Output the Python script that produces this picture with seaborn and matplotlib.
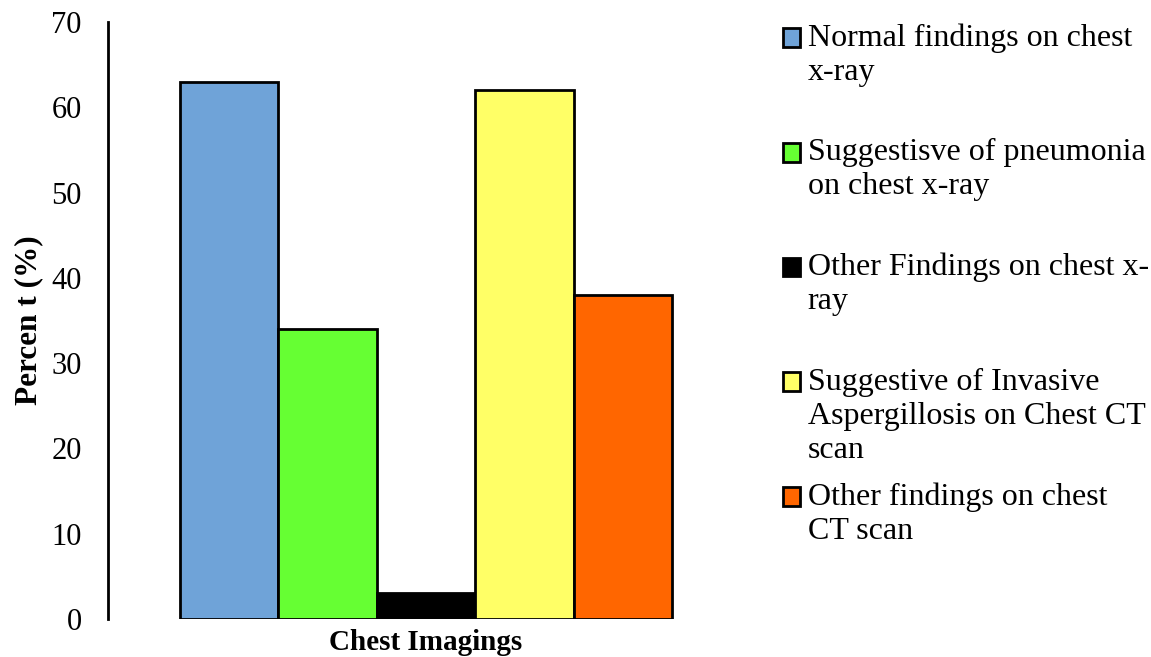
import matplotlib
matplotlib.use("Agg")
import matplotlib.pyplot as plt
from matplotlib.patches import Rectangle
from matplotlib.legend_handler import HandlerPatch
import seaborn as sns
import pandas as pd

group = ["Chest Imagings"] * 5
findings = [
    "Normal findings on chest\nx-ray",
    "Suggestisve of pneumonia\non chest x-ray",
    "Other Findings on chest x-\nray",
    "Suggestive of Invasive\nAspergillosis on Chest CT\nscan",
    "Other findings on chest\nCT scan",
]
percent = [63, 34, 3, 62, 38]
colors = ["#6FA3D8", "#66FF33", "#000000", "#FFFF66", "#FF6600"]
yticks = [0, 10, 20, 30, 40, 50, 60, 70]

sns.set_theme(style="white")
plt.rcParams["font.family"] = ["Liberation Serif", "DejaVu Serif"]
plt.rcParams["text.color"] = "black"
plt.rcParams["axes.labelcolor"] = "black"
plt.rcParams["ytick.color"] = "black"

LEGEND_FS = 23
LINE_SPACING = 1.24


class TopAlignedPatch(HandlerPatch):
    """Square legend key lifted so it sits beside the first text line."""

    def __init__(self, lift, **kw):
        super().__init__(**kw)
        self.lift = lift

    def create_artists(self, legend, orig_handle, xdescent, ydescent,
                       width, height, fontsize, trans):
        p = Rectangle((-xdescent, -ydescent + self.lift), width, height)
        self.update_prop(p, orig_handle, legend)
        p.set_transform(trans)
        return [p]


df = pd.DataFrame({"group": group, "finding": findings, "percent": percent})

fig = plt.figure(figsize=(11.51, 6.57), dpi=100)
ax = fig.add_axes([108 / 1151, 38 / 657, 636 / 1151, 597 / 657])

sns.barplot(data=df, x="group", y="percent", hue="finding", hue_order=findings,
            palette=colors, edgecolor="black", linewidth=2, width=0.8,
            saturation=1, ax=ax, legend=True)

ax.set_ylim(0, 70)
ax.set_xlim(-0.517, 0.517)
ax.set_yticks(yticks)
ax.set_yticklabels([str(t) for t in yticks], fontsize=22)
ax.tick_params(axis="y", length=0, pad=19)
ax.set_xticks([])
for side in ["top", "right", "bottom"]:
    ax.spines[side].set_visible(False)
ax.spines["left"].set_linewidth(2)
ax.spines["left"].set_color("black")

ax.set_ylabel("Percen t (%)", fontsize=22.5, fontweight="bold", labelpad=6)
ax.set_xlabel("Chest Imagings", fontsize=21, fontweight="bold", labelpad=7.5)

# every legend entry gets the same three-line slot
handles, labels = ax.get_legend_handles_labels()
slot_labels = [lab + "\n" * (2 - lab.count("\n")) for lab in labels]
line_pitch_pt = LEGEND_FS * 0.87 * LINE_SPACING
handler = TopAlignedPatch(lift=line_pitch_pt)
leg = ax.legend(handles, slot_labels, loc="upper left",
                bbox_to_anchor=(1.061, 0.998), frameon=False,
                fontsize=LEGEND_FS, handlelength=0.53, handleheight=0.53,
                handletextpad=0.25, labelspacing=0.53, borderpad=0,
                borderaxespad=0,
                handler_map={h: handler for h in handles})
for t in leg.get_texts():
    t.set_linespacing(LINE_SPACING)

fig.savefig("out.png", dpi=100)
